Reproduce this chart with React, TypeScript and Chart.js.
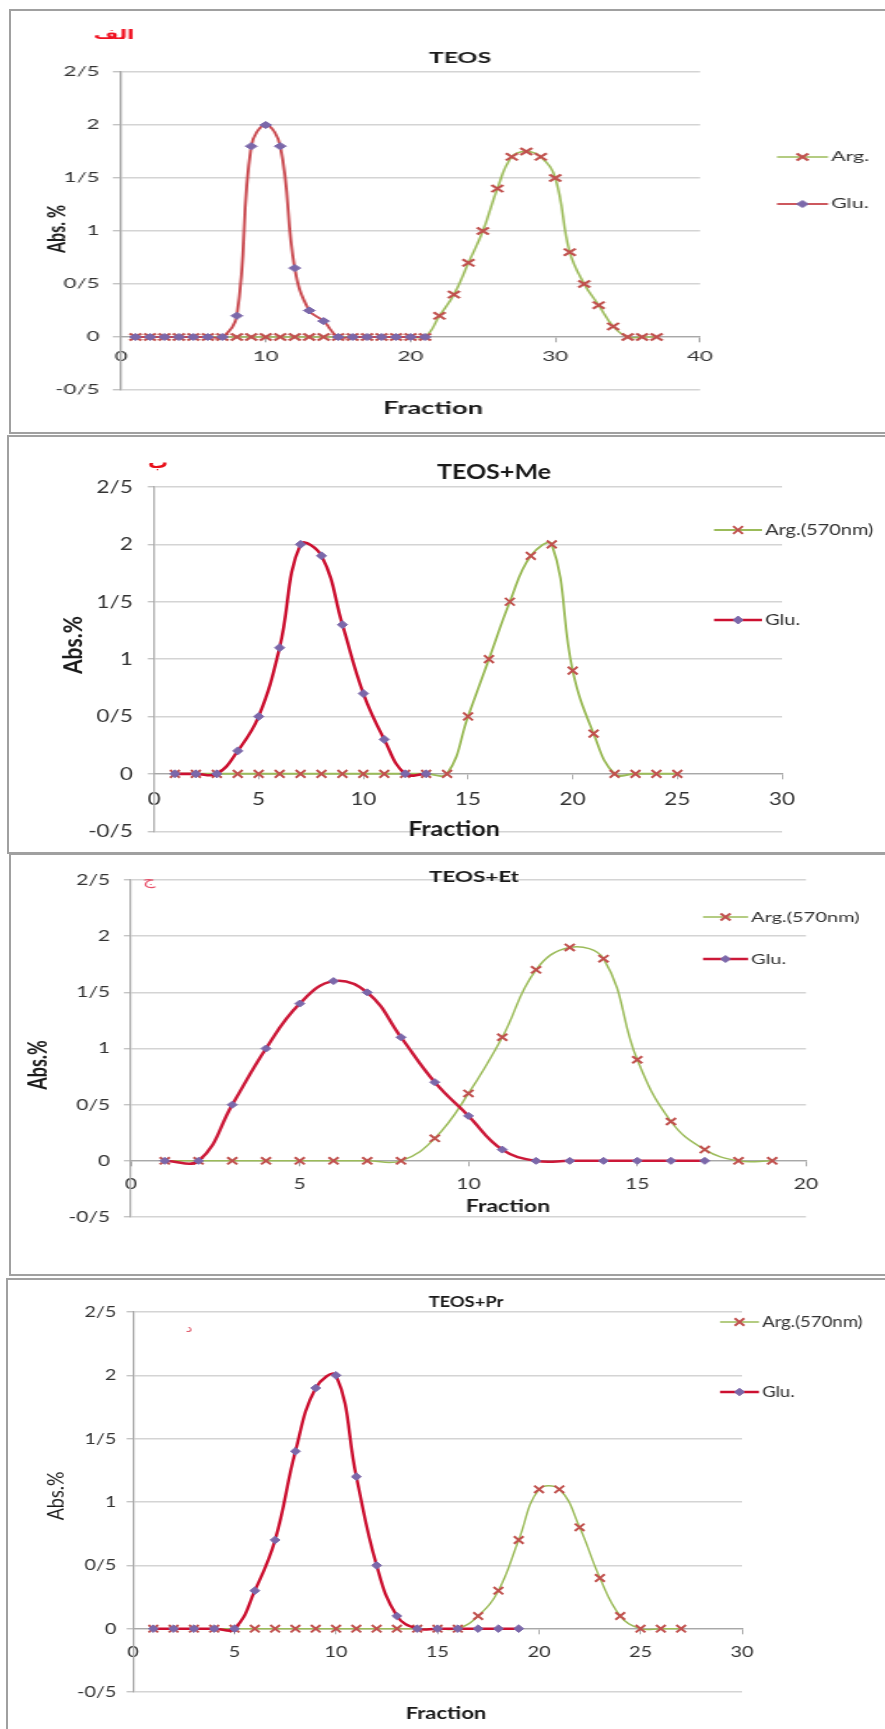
import React, { useEffect, useRef } from 'react';
import { Chart, registerables } from 'chart.js';

Chart.register(...registerables);

// ---------------- shared axis labels ----------------
const yTickValues = [-0.5, 0, 0.5, 1, 1.5, 2, 2.5];
const yTickLabels = ['-0/5', '0', '0/5', '1', '1/5', '2', '2/5'];
const xAxisTitle = 'Fraction';
const gluLabel = 'Glu.';

// ---------------- panel الف : TEOS ----------------
const teosPanelLabel = 'الف';
const teosTitle = 'TEOS';
const teosYTitle = 'Abs. %';
const teosArgLabel = 'Arg.';
const teosXTicks = [0, 10, 20, 30, 40];
const teosArgFractions = [1, 2, 3, 4, 5, 6, 7, 8, 9, 10, 11, 12, 13, 14, 15, 16, 17, 18, 19, 20, 21, 22, 23, 24, 25, 26, 27, 28, 29, 30, 31, 32, 33, 34, 35, 36, 37];
const teosArgAbs = [0, 0, 0, 0, 0, 0, 0, 0, 0, 0, 0, 0, 0, 0, 0, 0, 0, 0, 0, 0, 0, 0.2, 0.4, 0.7, 1.0, 1.4, 1.7, 1.75, 1.7, 1.5, 0.8, 0.5, 0.3, 0.1, 0, 0, 0];
const teosGluFractions = [1, 2, 3, 4, 5, 6, 7, 8, 9, 10, 11, 12, 13, 14, 15, 16, 17, 18, 19, 20, 21];
const teosGluAbs = [0, 0, 0, 0, 0, 0, 0, 0.2, 1.8, 2.0, 1.8, 0.65, 0.25, 0.15, 0, 0, 0, 0, 0, 0, 0];

// ---------------- panel ب : TEOS+Me ----------------
const mePanelLabel = 'ب';
const meTitle = 'TEOS+Me';
const meYTitle = 'Abs.%';
const meArgLabel = 'Arg.(570nm)';
const meXTicks = [0, 5, 10, 15, 20, 25, 30];
const meArgFractions = [1, 2, 3, 4, 5, 6, 7, 8, 9, 10, 11, 12, 13, 14, 15, 16, 17, 18, 19, 20, 21, 22, 23, 24, 25];
const meArgAbs = [0, 0, 0, 0, 0, 0, 0, 0, 0, 0, 0, 0, 0, 0, 0.5, 1.0, 1.5, 1.9, 2.0, 0.9, 0.35, 0, 0, 0, 0];
const meGluFractions = [1, 2, 3, 4, 5, 6, 7, 8, 9, 10, 11, 12, 13];
const meGluAbs = [0, 0, 0, 0.2, 0.5, 1.1, 2.0, 1.9, 1.3, 0.7, 0.3, 0, 0];

// ---------------- panel ج : TEOS+Et ----------------
const etPanelLabel = 'ج';
const etTitle = 'TEOS+Et';
const etYTitle = 'Abs.%';
const etArgLabel = 'Arg.(570nm)';
const etXTicks = [0, 5, 10, 15, 20];
const etArgFractions = [1, 2, 3, 4, 5, 6, 7, 8, 9, 10, 11, 12, 13, 14, 15, 16, 17, 18, 19];
const etArgAbs = [0, 0, 0, 0, 0, 0, 0, 0, 0.2, 0.6, 1.1, 1.7, 1.9, 1.8, 0.9, 0.35, 0.1, 0, 0];
const etGluFractions = [1, 2, 3, 4, 5, 6, 7, 8, 9, 10, 11, 12, 13, 14, 15, 16, 17];
const etGluAbs = [0, 0, 0.5, 1.0, 1.4, 1.6, 1.5, 1.1, 0.7, 0.4, 0.1, 0, 0, 0, 0, 0, 0];

// ---------------- panel د : TEOS+Pr ----------------
const prPanelLabel = 'د';
const prTitle = 'TEOS+Pr';
const prYTitle = 'Abs.%';
const prArgLabel = 'Arg.(570nm)';
const prXTicks = [0, 5, 10, 15, 20, 25, 30];
const prArgFractions = [1, 2, 3, 4, 5, 6, 7, 8, 9, 10, 11, 12, 13, 14, 15, 16, 17, 18, 19, 20, 21, 22, 23, 24, 25, 26, 27];
const prArgAbs = [0, 0, 0, 0, 0, 0, 0, 0, 0, 0, 0, 0, 0, 0, 0, 0, 0.1, 0.3, 0.7, 1.1, 1.1, 0.8, 0.4, 0.1, 0, 0, 0];
const prGluFractions = [1, 2, 3, 4, 5, 6, 7, 8, 9, 10, 11, 12, 13, 14, 15, 16, 17, 18, 19];
const prGluAbs = [0, 0, 0, 0, 0, 0.3, 0.7, 1.4, 1.9, 2.0, 1.2, 0.5, 0.1, 0, 0, 0, 0, 0, 0];

// ---------------- styling / layout (page pixel coordinates) ----------------
const FONT = 'Lato, "Open Sans", sans-serif';
const ARABIC_FONT = '"DejaVu Sans", sans-serif';
const TICK_COLOR = '#333333';
const TEXT_COLOR = '#1a1a1a';
const GRID_COLOR = '#d4d4d4';
const AXIS_COLOR = '#a8a8a8';
const ARG_LINE = '#9bbb59';
const ARG_MARK = '#c0504d';
const GLU_MARK = '#7b68aa';

type Panel = {
  key: string;
  panelLabel: string;
  title: string;
  yTitle: string;
  argLabel: string;
  xTicks: number[];
  argFractions: number[];
  argAbs: number[];
  gluFractions: number[];
  gluAbs: number[];
  box: { left: number; top: number; width: number; height: number };
  sx: number;
  plot: { x0: number; x1: number; yTop: number; yBot: number };
  tickSize: number;
  xTickPad: number;
  yTickPad: number;
  titlePos: { x: number; y: number; size: number };
  labelPos: { x: number; y: number; size: number; color: string; bold: boolean };
  yTitlePos: { x: number; y: number; size: number; bold: boolean };
  xTitlePos: { x: number; y: number; size: number };
  legend: { x1: number; x2: number; tx: number; ys: number[]; size: number };
  gluLine: string;
  gluWidth: number;
  argWidth: number;
  markR: number;
};

const panels: Panel[] = [
  {
    key: 'teos',
    panelLabel: teosPanelLabel,
    title: teosTitle,
    yTitle: teosYTitle,
    argLabel: teosArgLabel,
    xTicks: teosXTicks,
    argFractions: teosArgFractions,
    argAbs: teosArgAbs,
    gluFractions: teosGluFractions,
    gluAbs: teosGluAbs,
    box: { left: 9, top: 9, width: 886, height: 425 },
    sx: 1.65,
    plot: { x0: 121, x1: 700, yTop: 72, yBot: 390 },
    tickSize: 13.5,
    xTickPad: 7,
    yTickPad: 8,
    titlePos: { x: 460, y: 58, size: 15 },
    labelPos: { x: 114, y: 36, size: 13, color: '#f01020', bold: true },
    yTitlePos: { x: 57, y: 229, size: 16, bold: true },
    xTitlePos: { x: 433, y: 409, size: 16.5 },
    legend: { x1: 777, x2: 828, tx: 831, ys: [157, 204], size: 13 },
    gluLine: '#c8464c',
    gluWidth: 1.8,
    argWidth: 1.5,
    markR: 3.5,
  },
  {
    key: 'me',
    panelLabel: mePanelLabel,
    title: meTitle,
    yTitle: meYTitle,
    argLabel: meArgLabel,
    xTicks: meXTicks,
    argFractions: meArgFractions,
    argAbs: meArgAbs,
    gluFractions: meGluFractions,
    gluAbs: meGluAbs,
    box: { left: 7, top: 435, width: 888, height: 419 },
    sx: 1.25,
    plot: { x0: 154, x1: 782, yTop: 487, yBot: 840 },
    tickSize: 18,
    xTickPad: 10,
    yTickPad: 12,
    titlePos: { x: 494, y: 473, size: 20 },
    labelPos: { x: 158, y: 464, size: 16, color: '#e8101a', bold: true },
    yTitlePos: { x: 74, y: 645, size: 21, bold: true },
    xTitlePos: { x: 454, y: 830, size: 20 },
    legend: { x1: 714, x2: 762, tx: 765, ys: [530, 620], size: 16 },
    gluLine: '#cc1030',
    gluWidth: 2.6,
    argWidth: 2,
    markR: 4,
  },
  {
    key: 'et',
    panelLabel: etPanelLabel,
    title: etTitle,
    yTitle: etYTitle,
    argLabel: etArgLabel,
    xTicks: etXTicks,
    argFractions: etArgFractions,
    argAbs: etArgAbs,
    gluFractions: etGluFractions,
    gluAbs: etGluAbs,
    box: { left: 9, top: 853, width: 886, height: 423 },
    sx: 1.4,
    plot: { x0: 131, x1: 806, yTop: 880, yBot: 1217 },
    tickSize: 15,
    xTickPad: 9,
    yTickPad: 10,
    titlePos: { x: 474, y: 877, size: 16 },
    labelPos: { x: 149, y: 881, size: 14, color: '#e8506a', bold: false },
    yTitlePos: { x: 38, y: 1065, size: 18, bold: true },
    xTitlePos: { x: 508, y: 1207, size: 16.5 },
    legend: { x1: 703, x2: 748, tx: 751, ys: [917, 959], size: 14.3 },
    gluLine: '#cc1838',
    gluWidth: 2.5,
    argWidth: 1.5,
    markR: 3.5,
  },
  {
    key: 'pr',
    panelLabel: prPanelLabel,
    title: prTitle,
    yTitle: prYTitle,
    argLabel: prArgLabel,
    xTicks: prXTicks,
    argFractions: prArgFractions,
    argAbs: prArgAbs,
    gluFractions: prGluFractions,
    gluAbs: prGluAbs,
    box: { left: 6, top: 1278, width: 889, height: 470 },
    sx: 1.28,
    plot: { x0: 133, x1: 742, yTop: 1312, yBot: 1692 },
    tickSize: 15.5,
    xTickPad: 9,
    yTickPad: 8,
    titlePos: { x: 466, y: 1302, size: 14.3 },
    labelPos: { x: 189, y: 1329, size: 12, color: '#e06070', bold: false },
    yTitlePos: { x: 56, y: 1496, size: 18, bold: false },
    xTitlePos: { x: 446, y: 1713, size: 17.2 },
    legend: { x1: 720, x2: 759, tx: 762, ys: [1322, 1392], size: 14.5 },
    gluLine: '#cc1030',
    gluWidth: 2.5,
    argWidth: 1.5,
    markR: 3.8,
  },
];

function drawMarker(ctx: CanvasRenderingContext2D, kind: 'cross' | 'diamond', x: number, y: number, r: number, color: string) {
  ctx.save();
  if (kind === 'diamond') {
    ctx.fillStyle = color;
    ctx.strokeStyle = color;
    ctx.lineWidth = 1;
    ctx.beginPath();
    ctx.moveTo(x - r, y);
    ctx.lineTo(x, y - r);
    ctx.lineTo(x + r, y);
    ctx.lineTo(x, y + r);
    ctx.closePath();
    ctx.fill();
    ctx.stroke();
  } else {
    const d = r * Math.SQRT1_2;
    ctx.strokeStyle = color;
    ctx.lineWidth = 2;
    ctx.beginPath();
    ctx.moveTo(x - d, y - d);
    ctx.lineTo(x + d, y + d);
    ctx.moveTo(x + d, y - d);
    ctx.lineTo(x - d, y + d);
    ctx.stroke();
  }
  ctx.restore();
}

function buildConfig(p: Panel): any {
  const W = Math.round(p.box.width / p.sx);
  const H = p.box.height;
  const ix = (X: number) => (X - p.box.left) / p.sx;
  const iy = (Y: number) => Y - p.box.top;
  const areaL = ix(p.plot.x0);
  const areaR = ix(p.plot.x1);
  const areaT = iy(p.plot.yTop);
  const areaB = iy(p.plot.yBot);
  const yAxisW = areaL - 3;
  const toPoints = (xs: number[], ys: number[]) => xs.map((x, i) => ({ x, y: ys[i] }));

  const decor = {
    id: 'decor',
    afterDraw(chart: any) {
      const ctx: CanvasRenderingContext2D = chart.ctx;
      ctx.save();
      ctx.textAlign = 'center';
      ctx.textBaseline = 'middle';
      // panel letter
      ctx.fillStyle = p.labelPos.color;
      ctx.font = `${p.labelPos.bold ? 'bold ' : ''}${p.labelPos.size}px ${ARABIC_FONT}`;
      ctx.fillText(p.panelLabel, ix(p.labelPos.x), iy(p.labelPos.y));
      // title
      ctx.fillStyle = TEXT_COLOR;
      ctx.font = `bold ${p.titlePos.size}px ${FONT}`;
      ctx.fillText(p.title, ix(p.titlePos.x), iy(p.titlePos.y));
      // x title
      ctx.font = `bold ${p.xTitlePos.size}px ${FONT}`;
      ctx.fillText(xAxisTitle, ix(p.xTitlePos.x), iy(p.xTitlePos.y));
      // y title
      ctx.save();
      ctx.translate(ix(p.yTitlePos.x), iy(p.yTitlePos.y));
      ctx.rotate(-Math.PI / 2);
      ctx.font = `${p.yTitlePos.bold ? 'bold ' : ''}${p.yTitlePos.size}px ${FONT}`;
      ctx.fillText(p.yTitle, 0, 0);
      ctx.restore();
      // legend
      const entries = [
        { label: p.argLabel, line: ARG_LINE, width: p.argWidth, kind: 'cross' as const, mark: ARG_MARK, r: p.markR + 1.5 },
        { label: gluLabel, line: p.gluLine, width: p.gluWidth, kind: 'diamond' as const, mark: GLU_MARK, r: p.markR },
      ];
      entries.forEach((e, i) => {
        const y = iy(p.legend.ys[i]);
        const x1 = ix(p.legend.x1);
        const x2 = ix(p.legend.x2);
        ctx.strokeStyle = e.line;
        ctx.lineWidth = e.width;
        ctx.beginPath();
        ctx.moveTo(x1, y);
        ctx.lineTo(x2, y);
        ctx.stroke();
        drawMarker(ctx, e.kind, (x1 + x2) / 2, y, e.r, e.mark);
        ctx.fillStyle = '#333333';
        ctx.textAlign = 'left';
        ctx.font = `${p.legend.size}px ${FONT}`;
        ctx.fillText(e.label, ix(p.legend.tx), y);
      });
      ctx.restore();
    },
  };

  return {
    type: 'line',
    data: {
      datasets: [
        {
          label: p.argLabel,
          data: toPoints(p.argFractions, p.argAbs),
          borderColor: ARG_LINE,
          borderWidth: p.argWidth,
          pointStyle: 'crossRot',
          pointRadius: p.markR + 1.5,
          pointBorderColor: ARG_MARK,
          pointBackgroundColor: ARG_MARK,
          pointBorderWidth: 2,
          tension: 0.42,
          fill: false,
          order: 1,
        },
        {
          label: gluLabel,
          data: toPoints(p.gluFractions, p.gluAbs),
          borderColor: p.gluLine,
          borderWidth: p.gluWidth,
          pointStyle: 'rectRot',
          pointRadius: p.markR,
          pointBorderColor: GLU_MARK,
          pointBackgroundColor: GLU_MARK,
          pointBorderWidth: 1,
          tension: 0.42,
          fill: false,
          order: 0,
        },
      ],
    },
    options: {
      responsive: false,
      animation: false,
      devicePixelRatio: 1,
      events: [],
      layout: {
        padding: { left: areaL - yAxisW, right: W - areaR, top: areaT, bottom: H - areaB },
      },
      plugins: {
        legend: { display: false },
        title: { display: false },
        tooltip: { enabled: false },
      },
      scales: {
        x: {
          type: 'linear',
          position: { y: 0 },
          min: p.xTicks[0],
          max: p.xTicks[p.xTicks.length - 1],
          afterBuildTicks: (s: any) => {
            s.ticks = p.xTicks.map((v) => ({ value: v }));
          },
          ticks: {
            font: { family: FONT, size: p.tickSize },
            color: TICK_COLOR,
            padding: p.xTickPad,
            maxRotation: 0,
            autoSkip: false,
          },
          grid: { drawOnChartArea: false, drawTicks: true, tickLength: 5, color: AXIS_COLOR, lineWidth: 1 },
          border: { display: true, color: AXIS_COLOR, width: 1.3 },
        },
        y: {
          type: 'linear',
          position: 'left',
          min: yTickValues[0],
          max: yTickValues[yTickValues.length - 1],
          afterBuildTicks: (s: any) => {
            s.ticks = yTickValues.map((v) => ({ value: v }));
          },
          afterFit: (s: any) => {
            s.width = yAxisW;
          },
          ticks: {
            callback: (v: any) => {
              const i = yTickValues.indexOf(Number(v));
              return i >= 0 ? yTickLabels[i] : '';
            },
            font: { family: FONT, size: p.tickSize },
            color: TICK_COLOR,
            padding: p.yTickPad,
          },
          grid: { color: GRID_COLOR, lineWidth: 1.4, tickLength: 5, tickColor: '#c4c4c4' },
          border: { display: true, color: AXIS_COLOR, width: 1.3 },
        },
      },
    },
    plugins: [decor],
  };
}

function PanelChart({ p }: { p: Panel }) {
  const ref = useRef<HTMLCanvasElement | null>(null);
  const W = Math.round(p.box.width / p.sx);
  const H = p.box.height;
  useEffect(() => {
    if (!ref.current) return;
    const chart = new Chart(ref.current, buildConfig(p));
    return () => chart.destroy();
  }, [p]);
  return (
    <div
      style={{
        position: 'absolute',
        left: p.box.left,
        top: p.box.top,
        width: p.box.width,
        height: p.box.height,
        overflow: 'hidden',
        background: '#ffffff',
      }}
    >
      <canvas
        ref={ref}
        width={W}
        height={H}
        style={{
          position: 'absolute',
          left: 0,
          top: 0,
          width: W,
          height: H,
          transform: `scaleX(${p.sx})`,
          transformOrigin: '0 0',
        }}
      />
      <div
        style={{
          position: 'absolute',
          left: 0,
          top: 0,
          right: 0,
          bottom: 0,
          border: '2px solid #a0a0a0',
          boxSizing: 'border-box',
          pointerEvents: 'none',
        }}
      />
    </div>
  );
}

export default function App() {
  return (
    <div
      style={{
        position: 'absolute',
        left: 0,
        top: 0,
        width: 885,
        height: 1729,
        overflow: 'hidden',
        background: '#ffffff',
      }}
    >
      {panels.map((p) => (
        <PanelChart key={p.key} p={p} />
      ))}
    </div>
  );
}
